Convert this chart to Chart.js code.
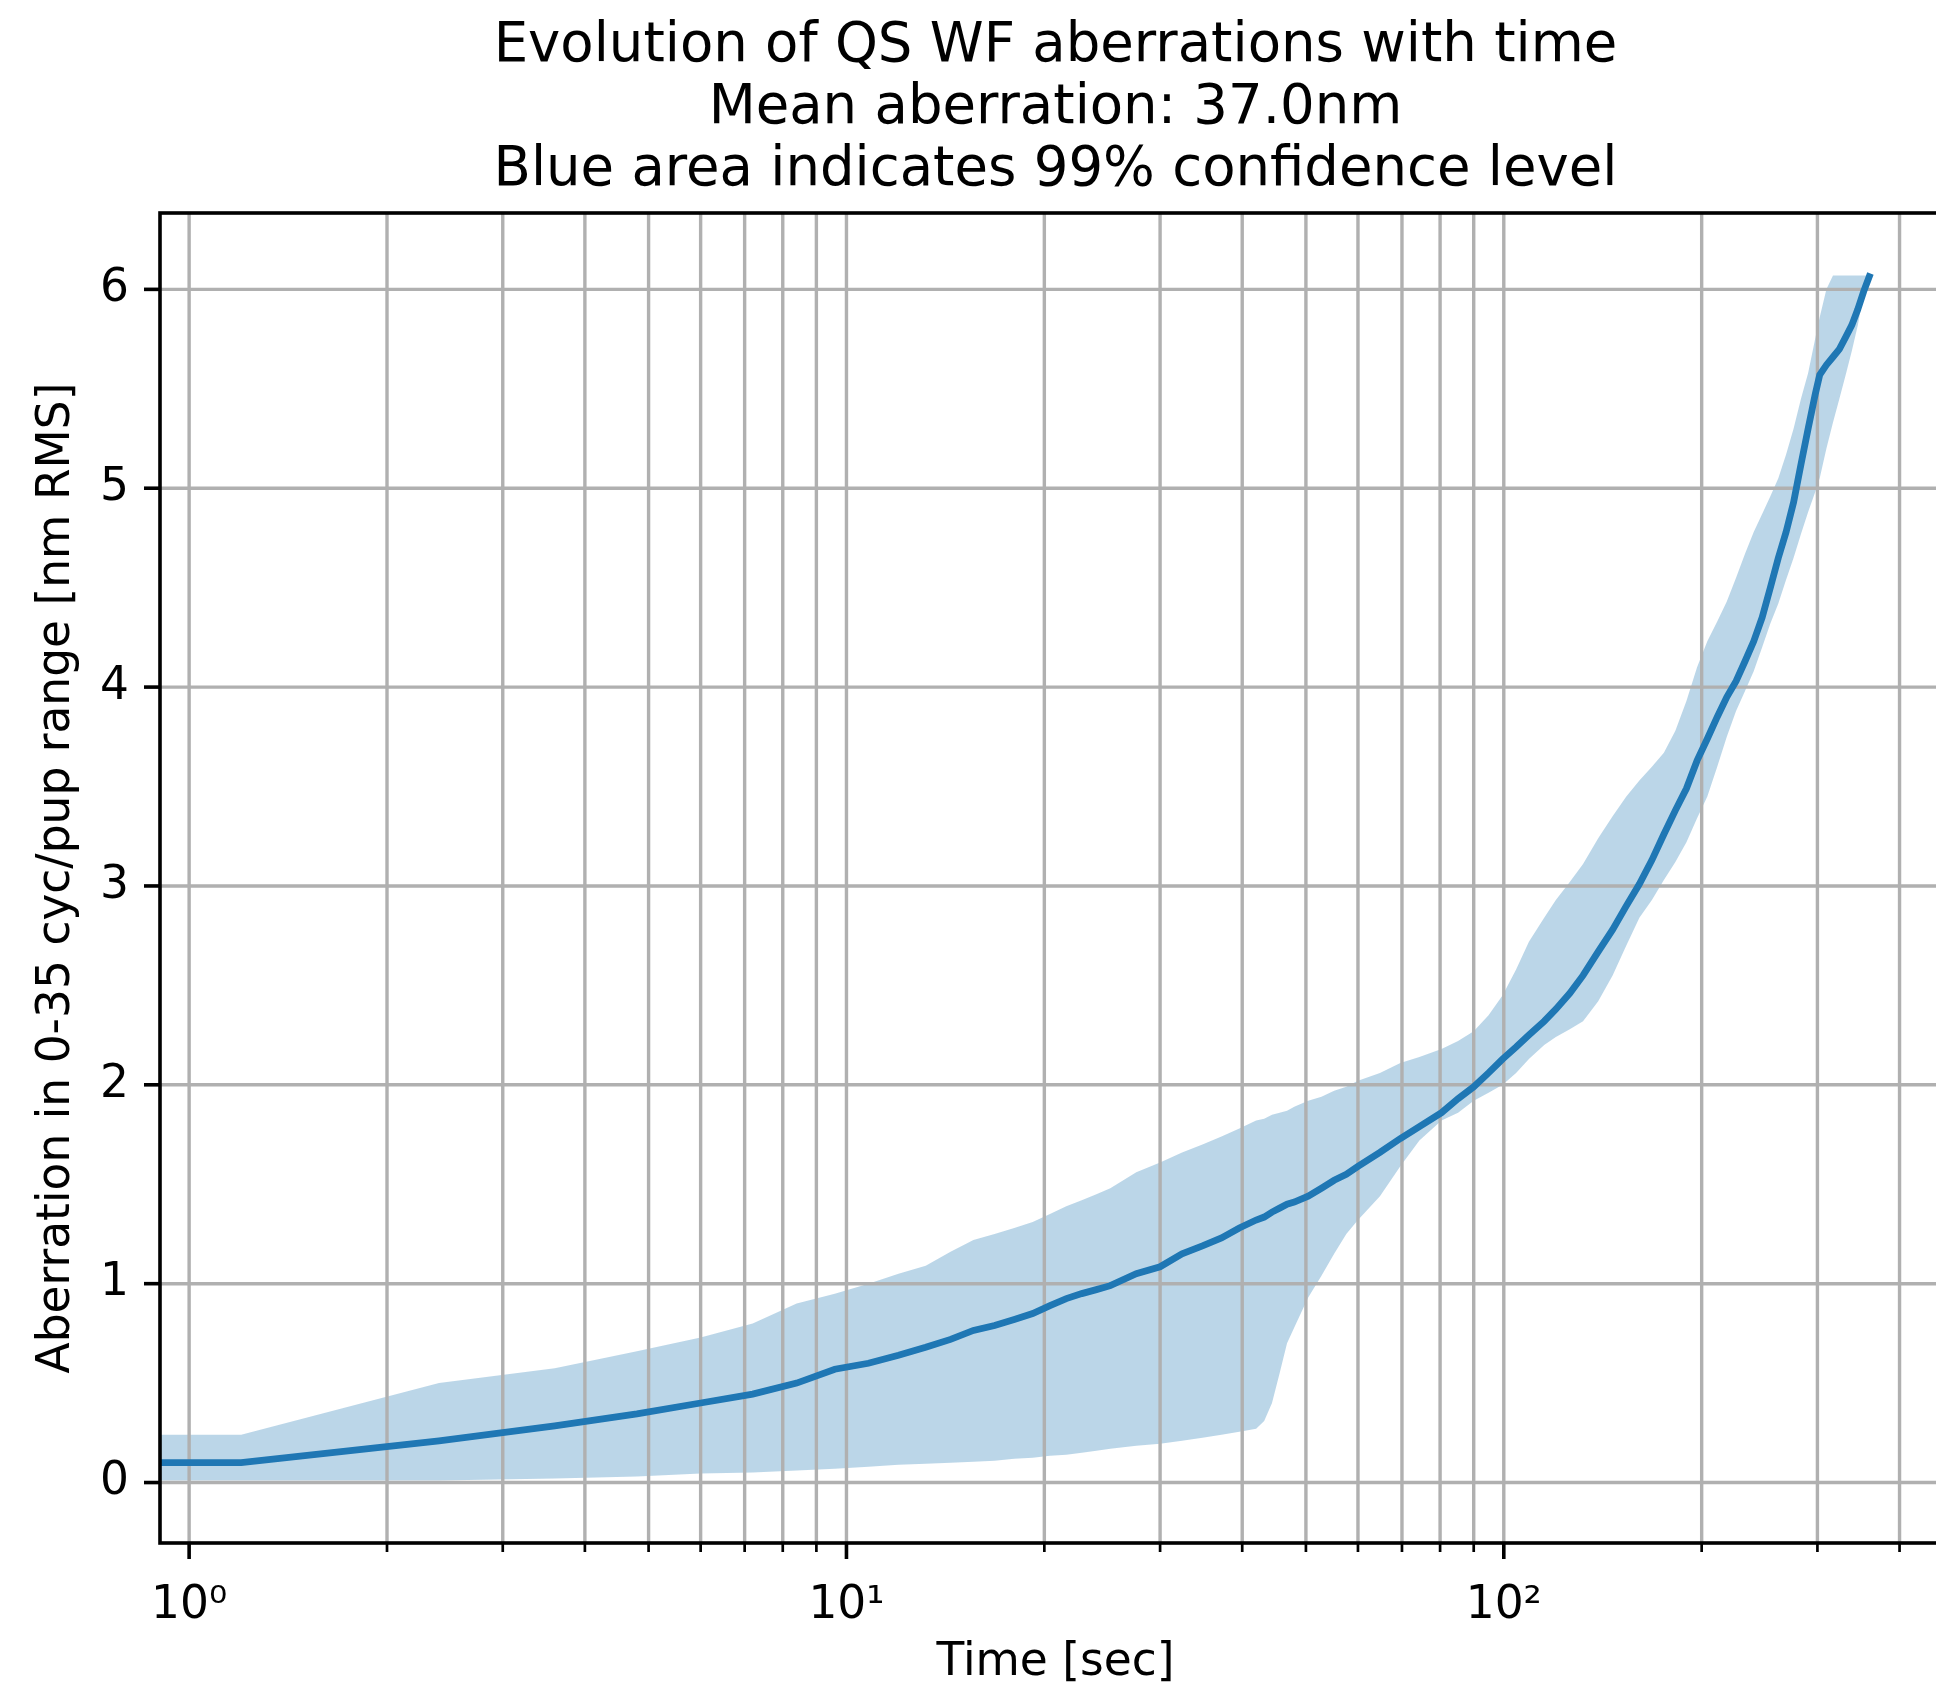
<!DOCTYPE html>
<html>
<head>
<meta charset="utf-8">
<title>Evolution of QS WF aberrations with time</title>
<script src="https://cdn.jsdelivr.net/npm/chart.js@4.4.0/dist/chart.umd.min.js"></script>
<style>
    html, body { margin: 0; padding: 0; background: #fff; overflow: hidden; }
    #wrap { width: 1960px; height: 1690px; position: relative; }
</style>
</head>
<body>
<div id="wrap"><canvas id="aberrationChart"></canvas></div>
<script>
// Title lines
const titleLines = [
    'Evolution of QS WF aberrations with time',
    'Mean aberration: 37.0nm',
    'Blue area indicates 99% confidence level'
];

// Time samples [sec] (first one sits left of the axis, like t=0 in the original)
const times = [0.5, 1.2, 2.4, 3.6, 4.8, 6.0, 7.2, 8.4, 9.6, 10.8,
    12.0, 13.2, 14.4, 15.6, 16.8, 18.0, 19.2, 20.4, 21.6, 22.8,
    24.0, 25.2, 27.6, 30.0, 32.4, 34.8, 37.2, 39.6, 42.0, 43.2,
    44.4, 45.6, 46.8, 48.0, 50.4, 52.8, 55.2, 57.6, 60.0, 64.8,
    69.6, 74.4, 80.4, 85.2, 90.0, 94.8, 99.6, 104.4, 109.2, 115.2,
    120.0, 126.0, 132.0, 139.2, 146.4, 153.6, 160.8, 168.0, 175.2, 182.4,
    189.6, 196.8, 204.0, 211.2, 218.4, 225.6, 232.8, 240.0, 247.2, 254.4,
    261.6, 268.8, 276.0, 283.2, 290.4, 297.6, 302.4, 309.6, 316.8, 324.0,
    331.2, 338.4, 345.6, 352.8, 361.2];

// Mean aberration [nm RMS]
const meanAberration = [0.10, 0.10, 0.21, 0.285, 0.345, 0.40, 0.445, 0.50, 0.57, 0.60,
    0.64, 0.68, 0.72, 0.765, 0.79, 0.82, 0.85, 0.89, 0.925, 0.95,
    0.97, 0.99, 1.05, 1.085, 1.15, 1.19, 1.23, 1.28, 1.32, 1.335,
    1.36, 1.38, 1.40, 1.41, 1.44, 1.48, 1.52, 1.55, 1.59, 1.66,
    1.73, 1.79, 1.86, 1.93, 1.99, 2.06, 2.13, 2.19, 2.25, 2.32,
    2.38, 2.46, 2.55, 2.67, 2.78, 2.90, 3.01, 3.13, 3.26, 3.38,
    3.49, 3.63, 3.74, 3.85, 3.95, 4.03, 4.13, 4.23, 4.35, 4.50,
    4.65, 4.78, 4.93, 5.12, 5.30, 5.47, 5.57, 5.62, 5.66, 5.70,
    5.76, 5.82, 5.90, 5.99, 6.08];

// 99% confidence band, upper edge
const upperBound = [0.24, 0.24, 0.50, 0.575, 0.66, 0.73, 0.80, 0.90, 0.95, 1.00,
    1.05, 1.09, 1.16, 1.22, 1.25, 1.28, 1.31, 1.35, 1.39, 1.42,
    1.45, 1.48, 1.56, 1.61, 1.66, 1.70, 1.74, 1.78, 1.82, 1.83,
    1.85, 1.86, 1.87, 1.89, 1.92, 1.94, 1.97, 1.99, 2.02, 2.06,
    2.11, 2.14, 2.18, 2.22, 2.27, 2.35, 2.45, 2.58, 2.72, 2.84,
    2.93, 3.02, 3.11, 3.24, 3.35, 3.45, 3.53, 3.60, 3.67, 3.78,
    3.93, 4.10, 4.23, 4.33, 4.43, 4.55, 4.67, 4.78, 4.87, 4.96,
    5.05, 5.17, 5.30, 5.45, 5.58, 5.75, 5.86, 6.00, 6.07, 6.07,
    6.07, 6.07, 6.07, 6.07, 6.07];

// 99% confidence band, lower edge
const lowerBound = [0.01, 0.01, 0.01, 0.02, 0.03, 0.045, 0.05, 0.06, 0.07, 0.08,
    0.09, 0.095, 0.10, 0.105, 0.11, 0.12, 0.125, 0.135, 0.14, 0.15,
    0.16, 0.17, 0.185, 0.195, 0.21, 0.225, 0.24, 0.255, 0.27, 0.31,
    0.40, 0.55, 0.70, 0.78, 0.93, 1.04, 1.15, 1.25, 1.32, 1.44,
    1.59, 1.72, 1.82, 1.86, 1.92, 1.96, 2.00, 2.06, 2.13, 2.20,
    2.24, 2.28, 2.32, 2.42, 2.55, 2.70, 2.84, 2.93, 3.03, 3.12,
    3.22, 3.34, 3.45, 3.60, 3.75, 3.88, 3.98, 4.08, 4.20, 4.32,
    4.42, 4.54, 4.65, 4.77, 4.88, 4.98, 5.05, 5.20, 5.33, 5.45,
    5.57, 5.69, 5.82, 5.98, 6.06];

// Axis ticks
const xTickValues = [1, 2, 3, 4, 5, 6, 7, 8, 9,
    10, 20, 30, 40, 50, 60, 70, 80, 90,
    100, 200, 300, 400];
const xMajorTicks = [1, 10, 100];
const xTickLabels = ['10\u2070', '10\u00b9', '10\u00b2'];
const yTickValues = [0, 1, 2, 3, 4, 5, 6];

const FONT = '"DejaVu Sans", sans-serif';
const BLUE = '#1f77b4';

// 점 배열 만들기
function toPoints(values) {
    return times.map((t, i) => ({ x: t, y: values[i] }));
}

// Grid, spines, tick marks and the figure title (matplotlib look)
const frameDecor = {
    id: 'frameDecor',
    beforeDatasetDraw(chart, args) {
        // gridlines sit above the band but below the mean line
        if (args.index !== 0) return;
        const { ctx, chartArea: a } = chart;
        const xs = chart.scales.x;
        const ys = chart.scales.y;
        ctx.save();
        ctx.strokeStyle = '#b0b0b0';
        ctx.lineWidth = 3.4;
        ctx.beginPath();
        xs.ticks.forEach(t => {
            const px = xs.getPixelForValue(t.value);
            ctx.moveTo(px, a.top);
            ctx.lineTo(px, a.bottom);
        });
        ys.ticks.forEach(t => {
            const py = ys.getPixelForValue(t.value);
            ctx.moveTo(a.left, py);
            ctx.lineTo(a.right, py);
        });
        ctx.stroke();
        ctx.restore();
    },
    afterDraw(chart) {
        const { ctx, chartArea: a } = chart;
        const xs = chart.scales.x;
        const ys = chart.scales.y;
        ctx.save();

        // spines
        ctx.strokeStyle = '#000';
        ctx.lineWidth = 3.6;
        ctx.strokeRect(a.left, a.top, a.right - a.left, a.bottom - a.top);

        // tick marks
        xs.ticks.forEach(t => {
            const major = xMajorTicks.includes(t.value);
            const px = xs.getPixelForValue(t.value);
            ctx.lineWidth = major ? 3.6 : 2.7;
            ctx.beginPath();
            ctx.moveTo(px, a.bottom);
            ctx.lineTo(px, a.bottom + (major ? 16 : 9));
            ctx.stroke();
        });
        ctx.lineWidth = 3.6;
        ys.ticks.forEach(t => {
            const py = ys.getPixelForValue(t.value);
            ctx.beginPath();
            ctx.moveTo(a.left, py);
            ctx.lineTo(a.left - 16, py);
            ctx.stroke();
        });

        // title
        ctx.fillStyle = '#000';
        ctx.font = '54.5px ' + FONT;
        ctx.textAlign = 'center';
        ctx.textBaseline = 'alphabetic';
        const cx = (a.left + a.right) / 2;
        titleLines.forEach((line, i) => {
            ctx.fillText(line, cx, a.top - 28 - 62 * (titleLines.length - 1 - i));
        });
        ctx.restore();
    }
};

Chart.defaults.color = '#000';
Chart.defaults.font.family = FONT;

const ctx = document.getElementById('aberrationChart').getContext('2d');
const aberrationChart = new Chart(ctx, {
    type: 'line',
    data: {
        datasets: [
            {
                label: 'Mean aberration',
                data: toPoints(meanAberration),
                borderColor: BLUE,
                borderWidth: 6.8,
                pointRadius: 0,
                tension: 0,
                fill: false,
                clip: 0
            },
            {
                label: 'Upper 99%',
                data: toPoints(upperBound),
                borderWidth: 0,
                borderColor: 'rgba(0,0,0,0)',
                backgroundColor: 'rgba(31, 119, 180, 0.3)',
                pointRadius: 0,
                tension: 0,
                fill: '+1',
                clip: 0
            },
            {
                label: 'Lower 99%',
                data: toPoints(lowerBound),
                borderWidth: 0,
                borderColor: 'rgba(0,0,0,0)',
                pointRadius: 0,
                tension: 0,
                fill: false,
                clip: 0
            }
        ]
    },
    options: {
        responsive: true,
        maintainAspectRatio: false,
        animation: false,
        layout: {
            padding: { top: 213, right: 9, left: 0, bottom: 0 }
        },
        plugins: {
            legend: { display: false },
            tooltip: { enabled: false }
        },
        scales: {
            x: {
                type: 'logarithmic',
                min: 0.903,
                max: 479,
                afterBuildTicks: scale => {
                    scale.ticks = xTickValues.map(v => ({ value: v }));
                },
                afterFit: scale => { scale.height = 147; },
                grid: { display: false, drawTicks: false },
                border: { display: false },
                ticks: {
                    autoSkip: false,
                    maxRotation: 0,
                    minRotation: 0,
                    padding: 36,
                    font: { size: 45.5 },
                    callback: function(value) {
                        const i = xMajorTicks.indexOf(value);
                        return i >= 0 ? xTickLabels[i] : '';
                    }
                },
                title: {
                    display: true,
                    text: 'Time [sec]',
                    font: { size: 45.5 },
                    padding: { top: 0, bottom: 0 }
                }
            },
            y: {
                type: 'linear',
                min: -0.304,
                max: 6.384,
                afterBuildTicks: scale => {
                    scale.ticks = yTickValues.map(v => ({ value: v }));
                },
                afterFit: scale => { scale.width = 160; },
                grid: { display: false, drawTicks: false },
                border: { display: false },
                ticks: {
                    padding: 31,
                    font: { size: 45.5 }
                },
                title: {
                    display: true,
                    text: 'Aberration in 0-35 cyc/pup range [nm RMS]',
                    font: { size: 45.5 },
                    padding: { top: 30, bottom: 0 }
                }
            }
        }
    },
    plugins: [frameDecor]
});
</script>
</body>
</html>
